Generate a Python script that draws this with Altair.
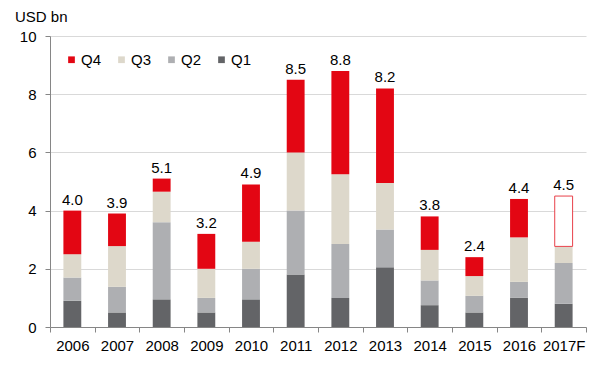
import altair as alt
import pandas as pd

years = ["2006", "2007", "2008", "2009", "2010", "2011", "2012", "2013", "2014", "2015", "2016", "2017F"]
q1 = [0.90, 0.50, 0.95, 0.50, 0.95, 1.80, 1.00, 2.05, 0.75, 0.50, 1.00, 0.80]
q2 = [0.80, 0.88, 2.65, 0.50, 1.05, 2.20, 1.85, 1.30, 0.85, 0.57, 0.55, 1.40]
q3 = [0.80, 1.40, 1.05, 1.00, 0.93, 2.00, 2.40, 1.60, 1.05, 0.68, 1.53, 0.57]
q4 = [1.50, 1.12, 0.45, 1.20, 1.97, 2.50, 3.55, 3.25, 1.15, 0.65, 1.32, 1.73]
totals = [4.0, 3.9, 5.1, 3.2, 4.9, 8.5, 8.8, 8.2, 3.8, 2.4, 4.4, 4.5]
quarters = ["Q4", "Q3", "Q2", "Q1"]
y_ticks = [0, 2, 4, 6, 8, 10]

series = {"Q1": q1, "Q2": q2, "Q3": q3, "Q4": q4}
rows = []
for qname, vals in series.items():
    for yr, v in zip(years, vals):
        rows.append({"year": yr, "q": qname, "qi": int(qname[1]), "value": v})
df = pd.DataFrame(rows)
tot_df = pd.DataFrame({"year": years, "total": totals, "label": [f"{t:.1f}" for t in totals]})

FONT = "Liberation Sans"
colors = ["#E30613", "#DDD8CB", "#AEAFB2", "#636467"]

x_enc = alt.X(
    "year:N",
    sort=years,
    scale=alt.Scale(paddingInner=0, paddingOuter=0),
    axis=alt.Axis(
        title=None, labelAngle=0, labelFontSize=15, labelColor="#000000", labelFont=FONT,
        tickBand="extent", tickSize=5, tickColor="#868686", domainColor="#868686",
        labelPadding=6, grid=False,
    ),
)

is_forecast_q4 = "datum.year === '2017F' && datum.q === 'Q4'"

bars = alt.Chart(df).mark_bar(width=alt.RelativeBandSize(0.4), strokeWidth=1).encode(
    x=x_enc,
    y=alt.Y(
        "value:Q",
        stack="zero",
        scale=alt.Scale(domain=[0, 10], nice=False),
        axis=alt.Axis(
            title=None, values=y_ticks, labelFontSize=15, labelColor="#000000", labelFont=FONT,
            tickSize=5, tickColor="#868686", domainColor="#868686", labelPadding=9,
            grid=True, gridColor="#D9D9D9",
        ),
    ),
    fill=alt.condition(
        is_forecast_q4,
        alt.value("#FFFFFF"),
        alt.Fill(
            "q:N",
            scale=alt.Scale(domain=quarters, range=colors),
            legend=alt.Legend(
                title=None, orient="none", legendX=14, legendY=16, direction="horizontal",
                symbolType="square", symbolSize=45, symbolStrokeWidth=0,
                labelFontSize=15, labelFont=FONT, labelColor="#000000",
                labelOffset=2, columnPadding=12,
            ),
        ),
    ),
    stroke=alt.condition(is_forecast_q4, alt.value("#E8414A"), alt.value("transparent")),
    order=alt.Order("qi:Q", sort="ascending"),
)

labels = alt.Chart(tot_df).mark_text(
    baseline="alphabetic", dy=-6, fontSize=15, font=FONT, color="#000000"
).encode(
    x=alt.X("year:N", sort=years),
    y=alt.Y("total:Q"),
    text="label:N",
)

chart = alt.layer(bars, labels).properties(
    width=536,
    height=291,
    autosize=alt.AutoSizeParams(type="none"),
    padding={"left": 42, "top": 28, "right": 6, "bottom": 30},
    title=alt.TitleParams(
        "USD bn", anchor="start", frame="group", dx=-35, offset=4,
        fontSize=15, fontWeight="normal", font=FONT, color="#000000",
    ),
).configure_view(stroke=None)

chart.save("out.html", embed_options={"renderer": "svg", "actions": False})
